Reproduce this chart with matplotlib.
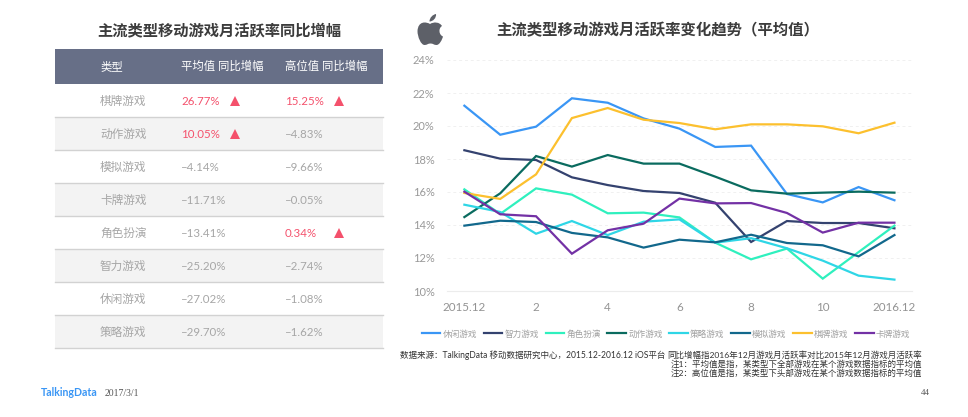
import matplotlib
matplotlib.use("Agg")
import matplotlib.pyplot as plt
from matplotlib.path import Path
from matplotlib.patches import PathPatch, Rectangle

FONT = ['Lato', 'Noto Sans CJK SC', 'DejaVu Sans']
plt.rcParams['font.family'] = FONT

W, H = 968, 417

months = list(range(13))
month_labels = ['2015.12', '2', '4', '6', '8', '10', '2016.12']
month_ticks = [0, 2, 4, 6, 8, 10, 12]
y_ticks = [10, 12, 14, 16, 18, 20, 22, 24]

xiuxian = [21.23, 19.47, 19.96, 21.68, 21.41, 20.46, 19.84, 18.73, 18.81, 15.88, 15.37, 16.30, 15.50]
zhili = [18.53, 18.02, 17.94, 16.89, 16.42, 16.06, 15.94, 15.35, 12.97, 14.24, 14.12, 14.12, 13.80]
juese = [16.16, 14.67, 16.22, 15.84, 14.71, 14.75, 14.46, 12.93, 11.92, 12.57, 10.75, 12.36, 13.96]
dongzuo = [14.48, 15.92, 18.18, 17.54, 18.24, 17.72, 17.72, 16.93, 16.10, 15.90, 15.96, 16.02, 15.96]
celue = [15.23, 14.79, 13.47, 14.24, 13.39, 14.20, 14.34, 12.93, 13.20, 12.59, 11.84, 10.93, 10.69]
moni = [13.96, 14.26, 14.18, 13.52, 13.25, 12.63, 13.11, 12.95, 13.41, 12.91, 12.77, 12.10, 13.39]
qipai = [15.94, 15.58, 17.07, 20.48, 21.09, 20.38, 20.18, 19.80, 20.10, 20.10, 19.98, 19.56, 20.20]
kapai = [16.02, 14.65, 14.53, 12.26, 13.68, 14.08, 15.60, 15.31, 15.33, 14.73, 13.54, 14.14, 14.14]

series_names = ['休闲游戏', '智力游戏', '角色扮演', '动作游戏', '策略游戏', '模拟游戏', '棋牌游戏', '卡牌游戏']
series_values = [xiuxian, zhili, juese, dongzuo, celue, moni, qipai, kapai]
series_colors = ['#3a96f5', '#34426f', '#2ff0be', '#0a6b5f', '#2fd6e6', '#12688c', '#fcc02e', '#7331a5']

table_header = ['类型', '平均值 同比增幅', '高位值 同比增幅']
table_types = ['棋牌游戏', '动作游戏', '模拟游戏', '卡牌游戏', '角色扮演', '智力游戏', '休闲游戏', '策略游戏']
table_avg = [26.77, 10.05, -4.14, -11.71, -13.41, -25.20, -27.02, -29.70]
table_high = [15.25, -4.83, -9.66, -0.05, 0.34, -2.74, -1.08, -1.62]

GRAY = '#a6a6a6'
RED = '#f4516c'

fig = plt.figure(figsize=(W / 100, H / 100), dpi=100, facecolor='white')


def axes_px(x0, y0, x1, y1):
    """Axes from pixel box, y measured from the top of the picture."""
    return fig.add_axes([x0 / W, 1 - y1 / H, (x1 - x0) / W, (y1 - y0) / H])


# ---------- Line chart ----------
ax = axes_px(447, 60, 912, 291)
for name, vals, col in zip(series_names, series_values, series_colors):
    ax.plot(months, vals, color=col, lw=1.6, label=name, solid_joinstyle='miter')
ax.set_xlim(-0.485, 12.49)
ax.set_ylim(10, 24)
ax.set_yticks(y_ticks)
ax.set_yticklabels([f'{v}%' for v in y_ticks], fontsize=8, color='#999999')
ax.set_xticks(month_ticks)
ax.set_xticklabels(month_labels, fontsize=8.4, color='#939393')
ax.tick_params(axis='y', length=0, pad=9)
ax.tick_params(axis='x', length=0, pad=8)
ax.grid(axis='y', color='#f0f0f0', lw=0.7, ls=(0, (3, 3)))
ax.set_axisbelow(True)
for side in ['top', 'right', 'left']:
    ax.spines[side].set_visible(False)
ax.spines['bottom'].set_color('#ececec')
ax.spines['bottom'].set_linewidth(0.8)
ax.patch.set_alpha(0)

leg = fig.legend(loc='center', bbox_to_anchor=(666 / W, 1 - 334 / H), ncol=8, frameon=False,
                 fontsize=6.2, labelcolor='#a0a0a0', handlelength=2.15, handletextpad=0.25,
                 columnspacing=0.78)

# ---------- Table ----------
n = len(table_types)
tb = axes_px(55, 49, 383, 348)
tb.set_xlim(55, 383)
tb.set_ylim(n, -35 / 33)
tb.axis('off')
tb.add_patch(Rectangle((55, -35 / 33), 328, 35 / 33, color='#676f87', lw=0))
COL_TYPE, COL_AVG, COL_HIGH = 100, 181, 285
TRI_AVG, TRI_HIGH = 235, 339
head_y = -35 / 66
for x, t in zip([COL_TYPE, COL_AVG, COL_HIGH], table_header):
    tb.text(x, head_y, t, color='white', fontsize=8.2, va='center', ha='left')


def pct(v):
    return f'{v:.2f}%'.replace('-', '–')


for i, (name, a, h) in enumerate(zip(table_types, table_avg, table_high)):
    if i % 2 == 1:
        tb.add_patch(Rectangle((55, i), 328, 1, color='#f3f3f3', lw=0))
    tb.plot([55, 383], [i + 1, i + 1], color='#d2d2d2', lw=1.0, clip_on=False)
    yc = i + 0.53
    tb.text(COL_TYPE, yc, name, color=GRAY, fontsize=8.4, va='center', ha='left')
    for x, tx, v in ((COL_AVG, TRI_AVG, a), (COL_HIGH, TRI_HIGH, h)):
        up = v > 0
        tb.text(x, yc, pct(v), color=RED if up else GRAY, fontsize=8.3, va='center', ha='left')
        if up:
            tb.plot([tx], [yc], marker='^', ms=7, color=RED, mew=0, ls='none')

# ---------- Titles ----------
fig.text(219 / W, 1 - 31 / H, '主流类型移动游戏月活跃率同比增幅', fontsize=11, fontweight='bold',
         color='#3c3c3c', ha='center', va='center')
fig.text(658 / W, 1 - 31 / H, '主流类型移动游戏月活跃率变化趋势（平均值）', fontsize=11.1, fontweight='bold',
         color='#3c3c3c', ha='center', va='center')

# ---------- Apple logo ----------
logo = axes_px(415, 13, 445, 47)
logo.set_xlim(0, 30)
logo.set_ylim(34, 0)
logo.axis('off')
body = [(Path.MOVETO, (15, 11)),
        (Path.CURVE4, (11, 8.5)), (Path.CURVE4, (3, 8)), (Path.CURVE4, (2.5, 18)),
        (Path.CURVE4, (2.5, 24)), (Path.CURVE4, (6, 32)), (Path.CURVE4, (9.5, 32)),
        (Path.CURVE4, (12, 32)), (Path.CURVE4, (13, 30.5)), (Path.CURVE4, (15.5, 30.5)),
        (Path.CURVE4, (18, 30.5)), (Path.CURVE4, (19, 32)), (Path.CURVE4, (21.5, 32)),
        (Path.CURVE4, (24.5, 32)), (Path.CURVE4, (27, 27)), (Path.CURVE4, (28, 23.5)),
        (Path.CURVE4, (24, 22)), (Path.CURVE4, (23, 15.5)), (Path.CURVE4, (27, 13)),
        (Path.CURVE4, (24.5, 9)), (Path.CURVE4, (19, 8.5)), (Path.CURVE4, (15, 11)),
        (Path.CLOSEPOLY, (15, 11))]
leaf = [(Path.MOVETO, (14.5, 8.5)),
        (Path.CURVE4, (14.5, 4.5)), (Path.CURVE4, (18, 1.5)), (Path.CURVE4, (21, 1)),
        (Path.CURVE4, (21.5, 5)), (Path.CURVE4, (18, 8.5)), (Path.CURVE4, (14.5, 8.5)),
        (Path.CLOSEPOLY, (14.5, 8.5))]
codes, verts = zip(*(body + leaf))
logo.add_patch(PathPatch(Path(verts, codes), facecolor='#5d6068', edgecolor='none'))

# ---------- Notes ----------
fig.text(400 / W, 1 - 355 / H, '数据来源：TalkingData 移动数据研究中心，2015.12-2016.12 iOS平台',
         fontsize=6.15, color='#333333', ha='left', va='center')
fig.text(922 / W, 1 - 355 / H, '同比增幅指2016年12月游戏月活跃率对比2015年12月游戏月活跃率',
         fontsize=6.1, color='#333333', ha='right', va='center')
fig.text(922 / W, 1 - 364 / H, '注1：平均值是指，某类型下全部游戏在某个游戏数据指标的平均值',
         fontsize=6.1, color='#333333', ha='right', va='center')
fig.text(922 / W, 1 - 373 / H, '注2：高位值是指，某类型下头部游戏在某个游戏数据指标的平均值',
         fontsize=6.1, color='#333333', ha='right', va='center')

# ---------- Footer ----------
fig.text(41 / W, 1 - 392.5 / H, 'TalkingData', fontsize=7.6, fontweight='bold', color='#3a96f5',
         ha='left', va='center')
fig.text(105 / W, 1 - 393 / H, '2017/3/1', fontsize=7, family='Liberation Serif', color='#555555',
         ha='left', va='center')
fig.text(930 / W, 1 - 393 / H, '44', fontsize=6.5, family='Liberation Serif', color='#555555',
         ha='right', va='center')

fig.savefig('out.png', dpi=100)
